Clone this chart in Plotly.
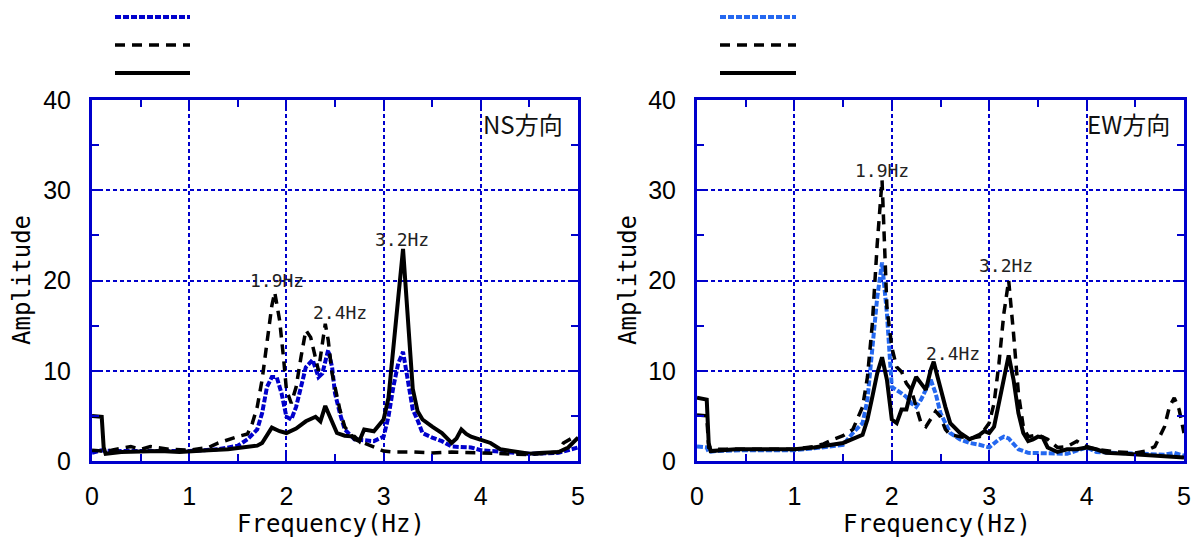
import plotly.graph_objects as go

# ---------------- data ----------------
ns_solid_x = [0, 0.1, 0.12, 0.14, 0.3, 0.5, 0.7, 0.9, 1.0, 1.2, 1.4, 1.6, 1.7, 1.75, 1.8, 1.85, 1.93, 2.0,
              2.1, 2.2, 2.3, 2.35, 2.4, 2.45, 2.52, 2.6, 2.7, 2.75, 2.8, 2.9, 3.0, 3.05, 3.1, 3.15, 3.2, 3.25,
              3.3, 3.35, 3.4, 3.5, 3.6, 3.7, 3.75, 3.8, 3.85, 3.9, 4.0, 4.1, 4.2, 4.3, 4.4, 4.5, 4.6, 4.7,
              4.8, 4.9, 5.0]
ns_solid_y = [5.0, 4.9, 1.5, 0.8, 1.0, 1.1, 1.1, 1.0, 1.1, 1.2, 1.3, 1.5, 1.7, 2.0, 2.8, 3.7, 3.3, 3.1,
              3.6, 4.4, 4.9, 4.4, 6.1, 4.9, 3.1, 2.8, 2.7, 2.2, 3.5, 3.3, 4.6, 7.0, 12.0, 18.0, 23.5, 15.0,
              8.0, 5.5, 4.6, 3.8, 3.1, 2.0, 2.5, 3.5, 3.0, 2.7, 2.4, 2.0, 1.3, 1.1, 0.9, 0.8, 0.9, 0.9,
              1.0, 1.5, 2.6]

ns_dash_x = [0, 0.1, 0.2, 0.4, 0.5, 0.6, 0.8, 1.0, 1.2, 1.3, 1.5, 1.6, 1.65, 1.7, 1.75, 1.8, 1.85, 1.88,
             1.93, 1.97, 2.0, 2.05, 2.1, 2.15, 2.2, 2.25, 2.3, 2.33, 2.37, 2.4, 2.43, 2.47, 2.5, 2.55, 2.6,
             2.7, 2.8, 2.9, 3.0, 3.1, 3.3, 3.5, 3.7, 4.0, 4.2, 4.5, 4.8, 4.85, 4.95, 5.0]
ns_dash_y = [1.2, 1.1, 1.2, 1.6, 1.3, 1.6, 1.3, 1.2, 1.5, 2.0, 2.7, 3.0, 4.2, 6.0, 9.0, 13.4, 17.2, 18.7,
             15.6, 11.5, 7.9, 6.4, 8.2, 11.5, 14.5, 13.7, 11.5, 10.0, 13.0, 15.2, 13.4, 9.7, 8.2, 5.7, 3.8,
             2.4, 2.0, 1.5, 1.1, 1.0, 1.0, 0.9, 1.0, 0.9, 0.8, 0.7, 1.0, 2.0, 2.6, 2.5]

ns_dot_x = [0, 0.1, 0.2, 0.5, 0.8, 1.0, 1.3, 1.5, 1.6, 1.7, 1.75, 1.8, 1.85, 1.9, 1.95, 2.0, 2.05, 2.1,
            2.15, 2.2, 2.27, 2.33, 2.37, 2.43, 2.47, 2.5, 2.55, 2.6, 2.7, 2.8, 2.9, 3.0, 3.05, 3.1, 3.15,
            3.2, 3.25, 3.3, 3.35, 3.4, 3.5, 3.6, 3.7, 3.8, 3.9, 4.0, 4.2, 4.5, 4.8, 4.9, 5.0]
ns_dot_y = [0.9, 1.2, 1.1, 1.1, 1.1, 1.1, 1.3, 1.7, 2.4, 3.5, 5.3, 8.2, 9.3, 9.3, 7.5, 4.9, 4.6, 6.0,
            8.2, 10.4, 11.2, 9.3, 9.7, 12.3, 10.4, 7.5, 5.3, 3.5, 2.4, 2.3, 2.2, 2.7, 4.9, 8.2, 10.8,
            12.1, 9.0, 5.7, 4.5, 3.1, 2.6, 2.2, 1.6, 1.5, 1.5, 1.2, 1.0, 0.8, 0.9, 1.2, 1.5]

ew_solid_x = [0, 0.1, 0.12, 0.14, 0.4, 0.7, 1.0, 1.2, 1.4, 1.5, 1.7, 1.75, 1.8, 1.85, 1.9, 1.95, 2.0, 2.05,
              2.1, 2.15, 2.2, 2.25, 2.3, 2.35, 2.4, 2.43, 2.47, 2.5, 2.55, 2.6, 2.7, 2.8, 2.85, 2.9, 2.95,
              3.0, 3.05, 3.1, 3.15, 3.2, 3.25, 3.3, 3.35, 3.4, 3.45, 3.5, 3.55, 3.6, 3.7, 3.8, 3.9, 4.0,
              4.1, 4.2, 4.4, 4.6, 4.8, 5.0]
ew_solid_y = [7.0, 6.8, 2.0, 1.1, 1.3, 1.3, 1.3, 1.5, 1.8, 2.0, 2.9, 4.6, 7.1, 9.7, 11.5, 9.0, 4.6, 4.2,
              5.7, 5.7, 7.9, 9.3, 8.6, 7.9, 10.1, 11.0, 9.3, 7.9, 6.0, 4.2, 3.1, 2.4, 2.6, 2.9, 3.3,
              3.1, 3.8, 6.4, 9.3, 11.7, 9.0, 5.3, 3.1, 2.2, 2.4, 2.7, 2.6, 1.5, 1.0, 1.3, 1.3, 1.5,
              1.3, 0.9, 0.8, 0.7, 0.6, 0.4]

ew_dash_x = [0, 0.1, 0.12, 0.2, 0.5, 0.8, 1.0, 1.2, 1.3, 1.4, 1.5, 1.6, 1.7, 1.75, 1.8, 1.85, 1.9, 1.95,
             2.0, 2.05, 2.1, 2.15, 2.2, 2.25, 2.3, 2.35, 2.4, 2.45, 2.5, 2.55, 2.6, 2.7, 2.8, 2.9, 3.0,
             3.05, 3.1, 3.15, 3.2, 3.25, 3.3, 3.35, 3.4, 3.5, 3.6, 3.7, 3.8, 3.9, 4.0, 4.1, 4.3, 4.5,
             4.6, 4.7, 4.8, 4.85, 4.9, 4.95, 5.0]
ew_dash_y = [5.1, 5.0, 1.5, 1.3, 1.3, 1.3, 1.3, 1.6, 1.9, 2.4, 2.8, 3.5, 6.0, 9.3, 15.2, 24.0, 31.1, 17.0,
             12.6, 10.4, 9.9, 8.6, 7.9, 6.0, 4.2, 3.8, 4.6, 5.5, 4.9, 3.5, 2.9, 2.7, 2.5, 2.7, 4.2,
             6.4, 10.8, 16.3, 20.0, 14.1, 7.5, 3.8, 2.7, 2.9, 2.4, 1.5, 1.6, 2.2, 1.6, 1.3, 1.0, 0.9,
             1.1, 1.6, 3.8, 6.0, 7.0, 5.7, 3.1]

ew_dot_x = [0, 0.1, 0.12, 0.2, 0.5, 0.8, 1.0, 1.2, 1.5, 1.6, 1.7, 1.75, 1.8, 1.85, 1.9, 1.95, 2.0, 2.05,
            2.1, 2.15, 2.2, 2.25, 2.3, 2.35, 2.4, 2.45, 2.5, 2.55, 2.6, 2.7, 2.8, 2.9, 3.0, 3.1, 3.15,
            3.2, 3.3, 3.4, 3.6, 3.8, 4.0, 4.1, 4.3, 4.5, 4.8, 4.9, 5.0]
ew_dot_y = [1.6, 1.5, 1.0, 1.1, 1.2, 1.2, 1.2, 1.4, 1.8, 3.1, 4.2, 6.8, 12.6, 18.1, 22.0, 16.3, 8.2, 7.9,
            7.5, 7.1, 6.4, 6.0, 6.8, 7.9, 9.0, 7.5, 5.3, 4.2, 3.1, 2.4, 2.0, 1.8, 1.5, 2.4, 2.7,
            2.5, 1.3, 0.9, 0.8, 0.8, 1.5, 1.0, 0.9, 0.8, 0.7, 0.9, 0.6]

ns_peak_labels = ["1.9Hz", "2.4Hz", "3.2Hz"]
ns_peak_x = [1.9, 2.55, 3.19]
ns_peak_y = [20.0, 16.4, 24.5]
ew_peak_labels = ["1.9Hz", "2.4Hz", "3.2Hz"]
ew_peak_x = [1.9, 2.63, 3.17]
ew_peak_y = [32.2, 11.9, 21.7]
panel_labels = ["NS方向", "EW方向"]

x_ticks = [0, 1, 2, 3, 4, 5]
y_ticks = [0, 10, 20, 30, 40]

# ---------------- styles ----------------
AX = "#0000CC"
NS_BLUE = "#0000CC"
EW_BLUE = "#2468F0"
W, H = 1196, 543

fig = go.Figure()

def add_panel(xa, ya, dotx, doty, dashx, dashy, solx, soly, blue):
    fig.add_trace(go.Scatter(x=dotx, y=doty, mode="lines", xaxis=xa, yaxis=ya,
                             line=dict(color=blue, width=4, dash="6px,2px"), showlegend=False))
    fig.add_trace(go.Scatter(x=dashx, y=dashy, mode="lines", xaxis=xa, yaxis=ya,
                             line=dict(color="black", width=3.5, dash="10px,7px"), showlegend=False))
    fig.add_trace(go.Scatter(x=solx, y=soly, mode="lines", xaxis=xa, yaxis=ya,
                             line=dict(color="black", width=4), showlegend=False))

add_panel("x", "y", ns_dot_x, ns_dot_y, ns_dash_x, ns_dash_y, ns_solid_x, ns_solid_y, NS_BLUE)
add_panel("x2", "y2", ew_dot_x, ew_dot_y, ew_dash_x, ew_dash_y, ew_solid_x, ew_solid_y, EW_BLUE)

y_dom = [(H - 461) / H, (H - 100) / H]
xd1 = [92 / W, 578 / W]
xd2 = [697 / W, 1184 / W]

def xaxis(dom, anchor):
    return dict(domain=dom, anchor=anchor, range=[0, 5], tickvals=x_ticks, automargin=False,
                ticks="inside", ticklen=7, tickwidth=2, tickcolor=AX,
                showline=True, linecolor=AX, linewidth=3, mirror="ticks",
                showgrid=True, gridcolor=AX, gridwidth=2, griddash="4px,3px", zeroline=False,
                minor=dict(dtick=0.5, ticks="inside", ticklen=7, tickwidth=2, tickcolor=AX, showgrid=False),
                tickfont=dict(family="Liberation Sans, Arial", size=25, color="black"),
                ticklabelstandoff=11)

def yaxis(anchor):
    return dict(domain=y_dom, anchor=anchor, range=[0, 40], tickvals=y_ticks, automargin=False,
                ticks="inside", ticklen=7, tickwidth=2, tickcolor=AX,
                showline=True, linecolor=AX, linewidth=3, mirror="ticks",
                showgrid=True, gridcolor=AX, gridwidth=2, griddash="4px,3px", zeroline=False,
                minor=dict(dtick=5, ticks="inside", ticklen=7, tickwidth=2, tickcolor=AX, showgrid=False),
                tickfont=dict(family="Liberation Sans, Arial", size=25, color="black"),
                ticklabelstandoff=13)

annotations = []
mono = dict(family="DejaVu Sans Mono", size=18, color="#222222")
for t, xx, yy in zip(ns_peak_labels, ns_peak_x, ns_peak_y):
    annotations.append(dict(x=xx, y=yy, xref="x", yref="y", text=t, showarrow=False, font=mono,
                            xanchor="center", yanchor="middle"))
for t, xx, yy in zip(ew_peak_labels, ew_peak_x, ew_peak_y):
    annotations.append(dict(x=xx, y=yy, xref="x2", yref="y2", text=t, showarrow=False, font=mono,
                            xanchor="center", yanchor="middle"))

cjk = dict(family="Noto Sans CJK JP", size=24, color="#111111")
for ref, lab in zip(["", "2"], panel_labels):
    annotations.append(dict(x=4.43, y=37.4, xref="x" + ref, yref="y" + ref, text=lab, showarrow=False,
                            font=cjk, xanchor="center", yanchor="middle"))

title_font = dict(family="DejaVu Sans Mono", size=24, color="black")
for cx in [22, 628]:
    annotations.append(dict(x=cx / W, y=(H - 280) / H, xref="paper", yref="paper", text="Amplitude",
                            textangle=-90, showarrow=False, font=title_font,
                            xanchor="center", yanchor="middle"))
for cx in [331, 937]:
    annotations.append(dict(x=cx / W, y=(H - 524) / H, xref="paper", yref="paper", text="Frequency(Hz)",
                            showarrow=False, font=title_font, xanchor="center", yanchor="middle"))

# legend line samples (legend text is not visible in the reference)
shapes = []
for x0, x1, blue in [(115, 190, NS_BLUE), (720, 796, EW_BLUE)]:
    for yy, col, dash, w in [(17, blue, "6px,2px", 4), (45, "black", "10px,7px", 3.5), (73, "black", "solid", 4)]:
        shapes.append(dict(type="line", xref="paper", yref="paper", x0=x0 / W, x1=x1 / W,
                           y0=(H - yy) / H, y1=(H - yy) / H, line=dict(color=col, width=w, dash=dash)))

fig.update_layout(
    width=W, height=H, margin=dict(l=0, r=0, t=0, b=0),
    paper_bgcolor="white", plot_bgcolor="white",
    xaxis=xaxis(xd1, "y"), yaxis=yaxis("x"),
    xaxis2=xaxis(xd2, "y2"), yaxis2=yaxis("x2"),
    annotations=annotations, shapes=shapes, showlegend=False,
)

fig.write_html("out.html", config={"displayModeBar": False},
               post_script="document.body.style.margin='0';document.body.style.overflow='hidden';")
